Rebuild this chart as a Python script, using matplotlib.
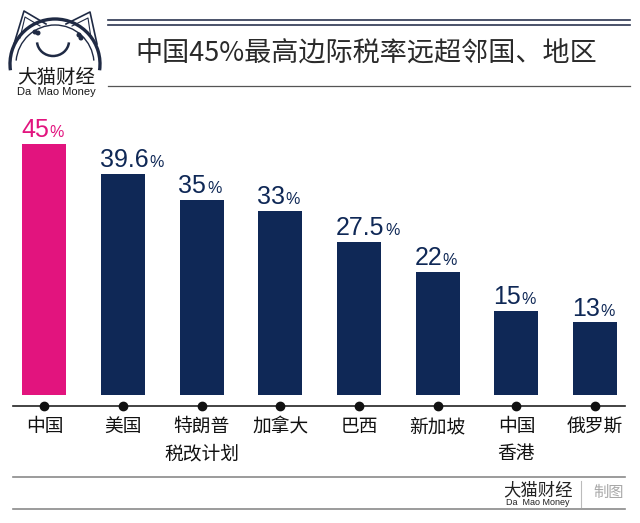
import matplotlib
matplotlib.use("Agg")
import matplotlib.pyplot as plt
from matplotlib.patches import Arc, Circle
from matplotlib.transforms import blended_transform_factory

plt.rcParams['font.family'] = ['Noto Sans CJK SC', 'DejaVu Sans']

# data
categories = ['中国', '美国', '特朗普\n税改计划', '加拿大', '巴西', '新加坡', '中国\n香港', '俄罗斯']
rates = [45, 39.6, 35, 33, 27.5, 22, 15, 13]
rate_labels = ['45', '39.6', '35', '33', '27.5', '22', '15', '13']
title = '中国45%最高边际税率远超邻国、地区'

pink = '#E2147E'
navy = '#0F2856'
colors = [pink] + [navy] * (len(rates) - 1)

W, H = 640, 523
fig = plt.figure(figsize=(W / 100, H / 100), dpi=100)

# overlay axes in pixel coordinates for header / footer decoration
ov = fig.add_axes([0, 0, 1, 1])
ov.set_xlim(0, W)
ov.set_ylim(H, 0)
ov.axis('off')

# bar axes
ax = fig.add_axes([13 / W, (H - 395) / H, (625 - 13) / W, 285 / H])
ax.set_xlim(-0.40, 7.38)
ax.set_ylim(0, 51.1)
ax.axis('off')

x = list(range(len(rates)))
bw = 0.56
ax.bar(x, rates, width=bw, color=colors)

# baseline with dots, category labels
bt = blended_transform_factory(ax.transData, ov.transData)
ax.plot([-0.40, 7.38], [405.5, 405.5], color='#222222', lw=1.2, transform=bt, clip_on=False)
ax.plot(x, [405.5] * len(x), 'o', color='#111111', ms=6, transform=bt, clip_on=False)
for xi, c in zip(x, categories):
    ax.text(xi, 416, c, transform=bt, ha='center', va='top', fontsize=13.5,
            color='#111111', linespacing=1.4)

# value labels: big number + small percent sign
fig.canvas.draw()
r = fig.canvas.get_renderer()
for xi, v, lab, col in zip(x, rates, rate_labels, colors):
    t = ax.annotate(lab, xy=(xi - bw / 2, v), xytext=(-1, 5), textcoords='offset points',
                    ha='left', va='baseline', fontsize=18, color=col, family='Liberation Sans')
    wpx = t.get_window_extent(r).width
    ax.annotate('%', xy=(xi - bw / 2, v), xytext=(wpx * 72 / 100 - 0.5, 5),
                textcoords='offset points', ha='left', va='baseline', fontsize=11.5,
                color=col, family='Liberation Sans')

# header lines and title
line_col = '#2B3550'
ov.plot([108, 630], [20, 20], color=line_col, lw=1.2)
ov.plot([108, 630], [24.5, 24.5], color=line_col, lw=1.2)
ov.plot([108, 630], [86, 86], color='#555555', lw=0.9)
ov.text(366, 54, title, ha='center', va='center', fontsize=19.5, color='#2a2a2a',
        fontweight='light')

# logo
logo = '#1F2A44'
ov.add_patch(Arc((55, 64), 90, 90, theta1=172, theta2=368, color=logo, lw=2.4))
ov.add_patch(Arc((55, 64), 78, 78, theta1=185, theta2=355, color=logo, lw=1.0))
ov.add_patch(Arc((53, 41), 32, 30, theta1=5, theta2=175, color=logo, lw=1.8))
ov.plot([14, 24, 46], [44, 11, 24], color=logo, lw=1.2)
ov.plot([20, 25, 40], [38, 17, 26], color=logo, lw=0.8)
ov.plot([66, 90, 97], [24, 12, 44], color=logo, lw=1.2)
ov.plot([72, 88, 91], [26, 18, 38], color=logo, lw=0.8)
for cx, cy in [(35, 32), (38, 33), (79, 35), (81, 38)]:
    ov.add_patch(Circle((cx, cy), 1.8, color=logo))
ov.text(56, 77, '大猫财经', ha='center', va='center', fontsize=14, color='#1a1a1a')
ov.text(56, 92, 'Da  Mao Money', ha='center', va='center', fontsize=8,
        color='#1a1a1a', family='Liberation Sans')

# footer
ov.plot([13, 625], [477, 477], color='#8a8a8a', lw=1.2)
ov.plot([13, 625], [509, 509], color='#8a8a8a', lw=1.2)
ov.text(538, 490, '大猫财经', ha='center', va='center', fontsize=12.5, color='#222222')
ov.text(538, 502.5, 'Da  Mao Money', ha='center', va='center', fontsize=6.5,
        color='#222222', family='Liberation Sans')
ov.plot([581, 581], [481, 507], color='#bbbbbb', lw=0.8)
ov.text(609, 492, '制图', ha='center', va='center', fontsize=11, color='#a8a8a8')

fig.savefig('out.png', dpi=100)
